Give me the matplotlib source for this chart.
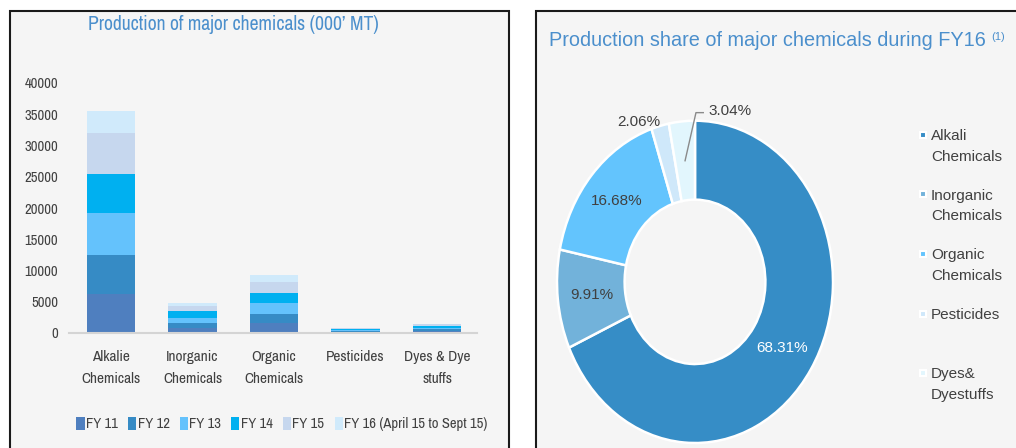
import math
import matplotlib
matplotlib.use("Agg")
import matplotlib.pyplot as plt
import matplotlib.font_manager as fm
from matplotlib.patches import Rectangle, Patch

# ---------------- data ----------------
categories = ['Alkalie\nChemicals', 'Inorganic\nChemicals', 'Organic\nChemicals',
              'Pesticides', 'Dyes & Dye\nstuffs']
series_names = ['FY 11', 'FY 12', 'FY 13', 'FY 14', 'FY 15', 'FY 16 (April 15 to Sept 15)']
fy11 = [6300, 800, 1650, 150, 280]
fy12 = [6250, 850, 1450, 160, 290]
fy13 = [6650, 800, 1700, 170, 300]
fy14 = [6300, 1050, 1600, 160, 280]
fy15 = [6500, 750, 1750, 140, 240]
fy16 = [3500, 530, 1070, 80, 110]
yticks = [0, 5000, 10000, 15000, 20000, 25000, 30000, 35000, 40000]

share_labels = ['Alkali\nChemicals', 'Inorganic\nChemicals', 'Organic\nChemicals',
                'Pesticides', 'Dyes&\nDyestuffs']
share_values = [68.31, 9.91, 16.68, 2.06, 3.04]

# ---------------- style ----------------
bar_colors = ['#4f7fbf', '#368bc5', '#64c2fc', '#00b0f0', '#c6d7ee', '#d0eafb']
pie_colors = ['#368dc6', '#72b2da', '#63c4fd', '#cfe8fa', '#e2f6fd']
TXT = '#404040'
TITLE = '#4b8fcc'
BG = '#f5f5f5'

names = [f.name for f in fm.fontManager.ttflist]
avail = set(names)
narrow_cands = sorted({n for n in names if 'Narrow' in n or 'Condensed' in n})
if narrow_cands:
    NARROW, NF = narrow_cands[0], 1.0
else:
    NARROW, NF = ('Liberation Sans' if 'Liberation Sans' in avail else 'DejaVu Sans'), 0.82
REG = 'Liberation Sans' if 'Liberation Sans' in avail else 'DejaVu Sans'

W, H = 1016, 448
fig = plt.figure(figsize=(W / 100, H / 100), dpi=100)
fig.patch.set_facecolor('white')

def fx(px):
    return px / W

def fy(py):
    return 1 - py / H

# panels
for x0 in (10, 536):
    r = Rectangle((fx(x0), fy(460)), fx(499 if x0 == 10 else 500), (460 - 11) / H,
                  transform=fig.transFigure, facecolor=BG, edgecolor='#1a1a1a', lw=1.5,
                  zorder=-10)
    fig.patches.append(r)

# ---------------- left: stacked bars ----------------
ax = fig.add_axes([fx(69), fy(333), fx(477 - 69), (333 - 83) / H])
ax.set_facecolor('none')
series = [fy11, fy12, fy13, fy14, fy15, fy16]
x = list(range(len(categories)))
bottom = [0] * len(categories)
for vals, col, name in zip(series, bar_colors, series_names):
    ax.bar(x, vals, bottom=bottom, width=0.59, color=col, label=name)
    bottom = [b + v for b, v in zip(bottom, vals)]
ax.set_xlim(-0.515, 4.49)
ax.set_ylim(0, 40000)
ax.set_yticks(yticks)
ax.set_yticklabels([str(t) for t in yticks], fontfamily=NARROW, fontsize=10.5 * NF, color=TXT)
ax.set_xticks(x)
ax.set_xticklabels(categories, fontfamily=NARROW, fontsize=11 * NF, color=TXT, linespacing=1.8)
ax.tick_params(axis='y', length=0, pad=8)
ax.tick_params(axis='x', length=0, pad=12)
for s in ['top', 'right', 'left']:
    ax.spines[s].set_visible(False)
ax.spines['bottom'].set_color('#d4d4d4')
ax.spines['bottom'].set_linewidth(1.5)

fig.text(fx(233), fy(24), "Production of major chemicals (000\u2019 MT)", ha='center', va='center',
         fontfamily=NARROW, fontsize=14.2 * NF, color=TITLE)

handles = [Patch(facecolor=c, edgecolor='none') for c in bar_colors]
fig.legend(handles, series_names, loc='center', bbox_to_anchor=(fx(282), fy(424)),
           ncol=6, frameon=False, handlelength=0.55, handleheight=1.0,
           handletextpad=0.1, columnspacing=0.7,
           prop={'family': NARROW, 'size': 10.5 * NF}, labelcolor=TXT)

# ---------------- right: donut ----------------
ax2 = fig.add_axes([fx(557), fy(443), fx(833 - 557), (443 - 120.7) / H])
wedges, _t, autotexts = ax2.pie(share_values, colors=pie_colors, startangle=90, counterclock=False,
                                wedgeprops=dict(width=0.49, edgecolor='white', linewidth=1.8),
                                autopct='%.2f%%', pctdistance=0.755,
                                textprops=dict(fontfamily=REG, fontsize=11, color=TXT))
ax2.set_aspect('auto')
ax2.set_xlim(-1, 1)
ax2.set_ylim(-1, 1)
autotexts[0].set_color('white')
# small slices labelled outside
autotexts[3].set_position((-0.41, 0.99))
autotexts[4].set_visible(False)
w = wedges[4]
mid = math.radians((w.theta1 + w.theta2) / 2)
px0, py0 = 0.755 * math.cos(mid), 0.755 * math.sin(mid)
ax2.plot([px0, 0.007, 0.06], [py0, 1.05, 1.05], color='#8a8a8a', lw=1, clip_on=False)
ax2.text(0.1, 1.06, f'{share_values[4]:.2f}%', ha='left', va='center',
         fontfamily=REG, fontsize=11, color=TXT)

fig.text(fx(549), fy(40), "Production share of major chemicals during FY16", ha='left', va='center',
         fontfamily=REG, fontsize=14.3, color=TITLE)
fig.text(fx(991), fy(37), "(1)", ha='left', va='center', fontfamily=REG, fontsize=8, color=TITLE)

# legend (right)
for i, (lab, col) in enumerate(zip(share_labels, pie_colors)):
    yy = 135 + 59.5 * i
    fig.lines.append(plt.Line2D([fx(923)], [fy(yy)], transform=fig.transFigure, marker='s',
                                markersize=5, markerfacecolor=col, markeredgecolor='white',
                                markeredgewidth=1.5, linestyle='none'))
    fig.text(fx(931), fy(yy - 6), lab, ha='left', va='top', fontfamily=REG, fontsize=11,
             color=TXT, linespacing=1.62, transform=fig.transFigure)

fig.savefig('out.png', dpi=100, facecolor='white')
